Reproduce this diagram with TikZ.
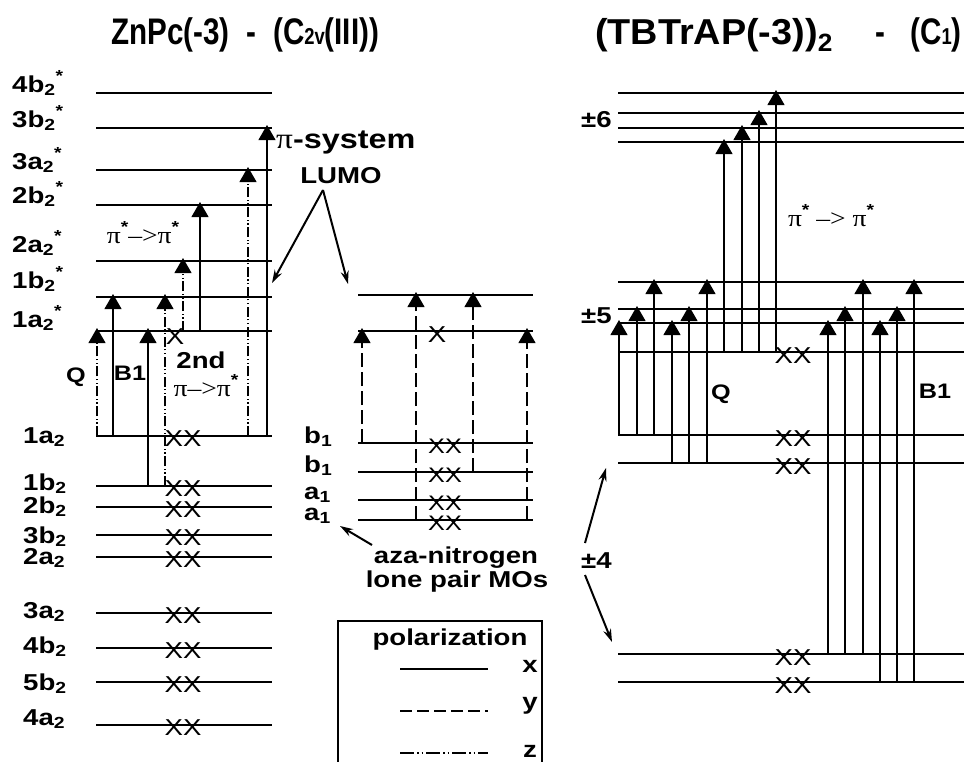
\documentclass[tikz,border=0pt]{standalone}
\usepackage{fontspec}
\setmainfont{Liberation Sans}
\newfontfamily\wide{Liberation Sans}[FakeStretch=1.2]
\newfontfamily\wserif{Liberation Serif}[FakeStretch=1.15]
\newfontfamily\ttl{Liberation Sans}[FakeStretch=0.8]
\newfontfamily\ttlw{Liberation Sans}[FakeStretch=1.05]
\newcommand\mystar{\raisebox{0.45em}{\wide\bfseries\fontsize{16}{16}\selectfont *}}
\usetikzlibrary{arrows.meta}
\begin{document}
\begin{tikzpicture}[x=1pt,y=-1pt,
  lvl/.style={line width=1.4pt},
  tr/.style={line width=1.1pt,-{Triangle[width=17pt,length=15pt]}},
  zpol/.style={dash pattern=on 10pt off 2.5pt on 1.2pt off 2.5pt on 1.2pt off 2.5pt},
  ypol/.style={dash pattern=on 14pt off 5pt},
  lab/.style={font=\wide\bfseries\fontsize{23}{25}\selectfont, inner sep=0pt},
  sml/.style={font=\wide\bfseries\fontsize{21}{23}\selectfont, inner sep=0pt},
  xx/.style={font=\wide\fontsize{23}{25}\selectfont, inner sep=0pt},
  xxs/.style={font=\wide\fontsize{21}{23}\selectfont, inner sep=0pt},
  pis/.style={font=\wserif\fontsize{24}{26}\selectfont, inner sep=0pt},
  ttlst/.style={font=\ttl\bfseries\fontsize{37}{40}\selectfont, inner sep=0pt},
  ttlwst/.style={font=\ttlw\bfseries\fontsize{36}{40}\selectfont, inner sep=0pt},
  pointer/.style={line width=2pt,-{Stealth[length=13pt,width=8pt]}},
]
\useasboundingbox (0,0) rectangle (964,761);

% ---------- titles
\node[ttlst,anchor=base west] (t1) at (111,44) {ZnPc(-3)};
\node[ttlst,anchor=base] (t2) at (251,44) {-};
\node[ttlst,anchor=base west] (t3) at (273,44) {(C{\fontsize{23}{23}\selectfont 2v}(III))};
\node[ttlwst,anchor=base west] (t4) at (595,44) {(TBTrAP(-3))\raisebox{-7pt}{\fontsize{25}{25}\selectfont 2}};
\node[ttlst,anchor=base] (t5) at (880,44) {-};
\node[ttlst,anchor=base east] (t6) at (962,44) {(C{\fontsize{23}{23}\selectfont 1})};

% ---------- left column levels
\foreach \y in {93,128,170,205,261,297,331,436,486,507,535,557,613,648,682,725}
  \draw[lvl] (96,\y) -- (272,\y);
% labels
\foreach \t/\y in {4b/92,3b/127,3a/169,2b/203,2a/252,1b/288,1a/327}
  \node[lab,anchor=base west] (L\t s) at (12,\y) {\t\textsubscript{2}\mystar};
\foreach \t/\y in {1a/443,1b/490,2b/513,3b/543,2a/564,3a/618,4b/653,5b/690,4a/725}
  \node[lab,anchor=base west] (L\t) at (23,\y) {\t\textsubscript{2}};
% electrons
\foreach \y in {436,486,507,535,557,613,648,682,725}
  \node[xx] at (183,\y+3) {XX};
\node[xx] (x1) at (175,337) {X};

% transitions left
\foreach \i/\x/\a/\b/\s in {1/97/436/331/zpol,2/113/436/297/solid,3/148/486/331/solid,4/165/486/297/zpol,
  5/183/331/261/zpol,6/200/331/205/solid,7/248/436/170/zpol,8/267/436/128/solid}{
  \coordinate (ls\i) at (\x,\a);
  \coordinate (le\i) at (\x,\b-3);
  \draw[tr,\s] (ls\i) -- (le\i);
}
\node[sml,anchor=base] (Q1) at (76,382) {Q};
\node[sml,anchor=base] (B11) at (130,380) {B1};
\node[lab,anchor=base] (nd) at (201,368) {2nd};
\node[pis,anchor=base] (pp1) at (206,396) {π–>π\mystar};
\node[pis,anchor=base] (pp2) at (143,243) {π\mystar–>π\mystar};
\node[inner sep=0pt,anchor=base west] (pisys) at (276,148)
  {{\wserif\fontsize{29}{30}\selectfont π}{\wide\bfseries\fontsize{27}{28}\selectfont -system}};
\node[lab,anchor=base] (lumo) at (341,183) {LUMO};
\coordinate (lumoA) at (323,190);
\coordinate (lumoL) at (272,283);
\coordinate (lumoR) at (348,284);
\draw[pointer] (lumoA) -- (lumoL);
\draw[pointer] (lumoA) -- (lumoR);

% ---------- middle column
\foreach \y in {295,331,443,472,500,520}
  \draw[lvl] (358,\y) -- (533,\y);
\foreach \t/\y in {b/443,b/472,a/499,a/520}
  \node[lab,anchor=base west] at (304,\y) {\t\textsubscript{1}};
\foreach \y in {443,472,500,520}
  \node[xxs] at (445,\y+3) {XX};
\node[xx] (x2) at (437,335) {X};
\foreach \i/\x/\a/\b in {1/362/443/331,2/416/520/295,3/473/472/295,4/527/520/331}{
  \coordinate (ms\i) at (\x,\a);
  \coordinate (me\i) at (\x,\b-3);
  \draw[tr,ypol] (ms\i) -- (me\i);
}
\node[lab,anchor=base] (aza) at (456,563) {aza-nitrogen};
\node[lab,anchor=base] (lone) at (457,587) {lone pair MOs};
\coordinate (azaA) at (372,545);
\coordinate (azaB) at (340,526);
\draw[pointer] (azaA) -- (azaB);

% legend
\draw[line width=1.4pt] (338,762) -- (338,621) -- (542,621) -- (542,762);
\node[lab,anchor=base] (pol) at (450,645) {polarization};
\coordinate (lx1) at (400,669); \coordinate (lx2) at (488,669);
\coordinate (ly1) at (400,711); \coordinate (ly2) at (488,711);
\coordinate (lz1) at (400,753); \coordinate (lz2) at (488,753);
\draw[line width=1.1pt] (lx1) -- (lx2);
\draw[line width=1.1pt,dash pattern=on 12pt off 5pt] (ly1) -- (ly2);
\draw[line width=1.1pt,dash pattern=on 14pt off 3pt on 1.5pt off 3pt on 1.5pt off 3pt] (lz1) -- (lz2);
\node[lab,anchor=base] at (530,672) {x};
\node[lab,anchor=base] at (530,709) {y};
\node[lab,anchor=base] at (530,757) {z};

% ---------- right column
\foreach \y in {93,113,128,142,282,309,323,352,435,463,654,682}
  \draw[lvl] (618,\y) -- (964,\y);
\foreach \y in {352,435,463,654,682}
  \node[xx] at (793,\y+4) {XX};
\foreach \i/\x/\a/\b in {1/619/435/323,2/637/435/309,3/654/435/282,4/672/463/323,5/689/463/309,6/707/463/282,
  7/724/352/142,8/742/352/128,9/759/352/113,10/776/352/93,
  11/828/654/323,12/845/654/309,13/863/654/282,14/880/682/323,15/897/682/309,16/914/682/282}{
  \coordinate (rs\i) at (\x,\a);
  \coordinate (re\i) at (\x,\b-3);
  \draw[tr] (rs\i) -- (re\i);
}
\node[lab,anchor=base west] (p6) at (581,127) {±6};
\node[lab,anchor=base west] (p5) at (581,323) {±5};
\node[lab,anchor=base west] (p4) at (581,568) {±4};
\node[sml,anchor=base] (Q2) at (721,399) {Q};
\node[sml,anchor=base] (B12) at (935,398) {B1};
\node[pis,anchor=base] (pp3) at (831,226) {π\mystar{} –> π\mystar};
\coordinate (p4a) at (585,543); \coordinate (p4b) at (606,468);
\coordinate (p4c) at (585,575); \coordinate (p4d) at (612,642);
\draw[pointer] (p4a) -- (p4b);
\draw[pointer] (p4c) -- (p4d);
\end{tikzpicture}
\end{document}
